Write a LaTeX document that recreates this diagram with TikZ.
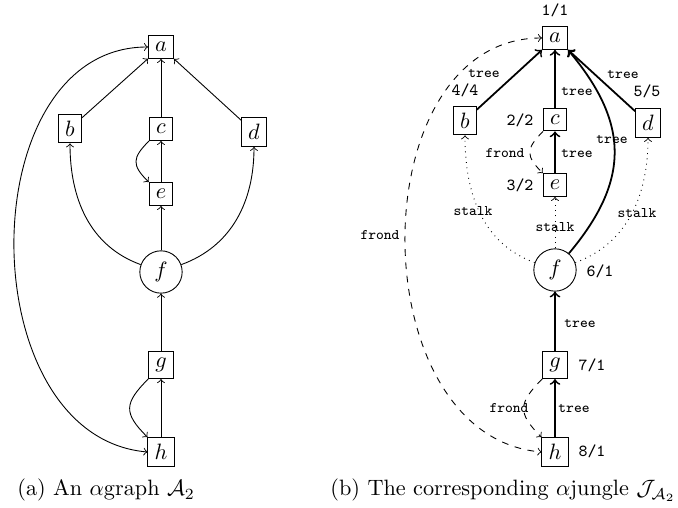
\documentclass[tikz,border=0pt]{standalone}
\usepackage{amsmath}
\begin{document}
\begin{tikzpicture}[x=0.45pt,y=-0.45pt,
  vbox/.style={draw, rectangle, inner sep=3pt, line width=0.4pt},
  vcirc/.style={draw, circle, inner sep=3pt, line width=0.4pt},
  edg/.style={->, line width=0.4pt},
  treeedge/.style={->, thick},
  frondedge/.style={->, dashed, line width=0.4pt},
  stalkedge/.style={->, dotted, line width=0.4pt},
  elab/.style={font=\fontsize{6.6}{7}\selectfont\ttfamily, inner sep=0pt},
  nlab/.style={font=\fontsize{7.6}{8}\selectfont\ttfamily, inner sep=0pt},
  captext/.style={inner sep=0pt}]
\useasboundingbox (0,0) rectangle (678,508);

% ---------- (a) ----------
\node[vbox] (a) at (161,47) {$a$};
\node[vbox] (b) at (70,128.5) {$b$};
\node[vbox] (c) at (161,129) {$c$};
\node[vbox] (d) at (254,132) {$d$};
\node[vbox] (e) at (161,194) {$e$};
\node[vcirc] (f) at (161,272) {$f$};
\node[vbox] (g) at (161,365) {$g$};
\node[vbox] (h) at (161,452) {$h$};

\draw[edg] (b) -- (a);
\draw[edg] (c) -- (a);
\draw[edg] (d) -- (a);
\draw[edg] (e) -- (c);
\draw[edg] (f) -- (e);
\draw[edg] (g) -- (f);
\draw[edg] (h) -- (g);
\draw[edg] (c.south west) to[out=-135,in=135,looseness=1.5] (e.north west);
\draw[edg] (g.south west) to[out=-135,in=135,looseness=1.5] (h.north west);
\draw[edg] (f) to[out=160,in=-90] (b);
\draw[edg] (f) to[out=20,in=-90] (d);
\draw[edg,<->] (a.west) to[out=180,in=175,looseness=1.13] (h.west);

\node[captext, anchor=base west] (capa) at (17,496) {(a) An $\alpha$graph $\mathcal{A}_2$};

% ---------- (b) ----------
\node[vbox] (ja) at (555,38) {$a$};
\node[vbox] (jb) at (465,120.5) {$b$};
\node[vbox] (jc) at (555,119.5) {$c$};
\node[vbox] (jd) at (648,123) {$d$};
\node[vbox] (je) at (555,185) {$e$};
\node[vcirc] (jf) at (555,270) {$f$};
\node[vbox] (jg) at (555,365) {$g$};
\node[vbox] (jh) at (555,452) {$h$};

\draw[treeedge] (jb) -- (ja);
\draw[treeedge] (jc) -- (ja);
\draw[treeedge] (jd) -- (ja);
\draw[treeedge] (je) -- (jc);
\draw[treeedge] (jg) -- (jf);
\draw[treeedge] (jh) -- (jg);
\draw[treeedge] (jf) to[out=50,in=-50,looseness=1.2] (ja.south east);
\draw[frondedge] (jc.south west) to[out=-135,in=135,looseness=1.5] (je.north west);
\draw[frondedge] (jg.south west) to[out=-135,in=135,looseness=1.5] (jh.north west);
\draw[frondedge,<->] (ja.west) to[out=180,in=175,looseness=1.13] (jh.west);
\draw[stalkedge] (jf) to[out=160,in=-90] (jb);
\draw[stalkedge] (jf) -- (je);
\draw[stalkedge] (jf) to[out=20,in=-90] (jd);

% edge labels
\node[elab] (l1) at (484,73) {tree};
\node[elab] (l2) at (577,91) {tree};
\node[elab] (l3) at (623,74) {tree};
\node[elab] (l4) at (612,139) {tree};
\node[elab] (l5) at (505,153) {frond};
\node[elab] (l6) at (577,153) {tree};
\node[elab] (l7) at (473,211) {stalk};
\node[elab] (l8) at (555,227) {stalk};
\node[elab] (l9) at (637,213) {stalk};
\node[elab] (l10) at (380,235) {frond};
\node[elab] (l11) at (580,323) {tree};
\node[elab] (l12) at (509,408) {frond};
\node[elab] (l13) at (574,408) {tree};

% numbering labels
\node[nlab] (n1) at (555,10) {1/1};
\node[nlab] (n2) at (465,90) {4/4};
\node[nlab] (n3) at (647,91) {5/5};
\node[nlab] (n4) at (520,120) {2/2};
\node[nlab] (n5) at (520,185) {3/2};
\node[nlab] (n6) at (600,271) {6/1};
\node[nlab] (n7) at (592,365) {7/1};
\node[nlab] (n8) at (592,451) {8/1};

\node[captext, anchor=base east] (capb) at (676,496) {(b) The corresponding $\alpha$jungle $\mathcal{J}_{\mathcal{A}_2}$};
\end{tikzpicture}
\end{document}
